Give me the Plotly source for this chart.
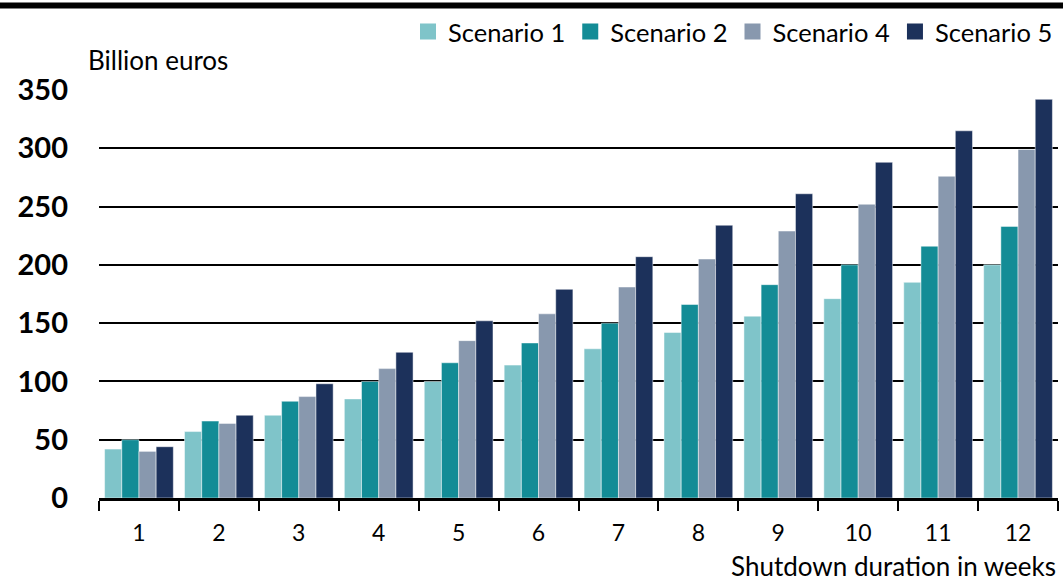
import plotly.graph_objects as go

weeks = ["1", "2", "3", "4", "5", "6", "7", "8", "9", "10", "11", "12"]
scenario_1 = [42, 57, 71, 85, 100, 114, 128, 142, 156, 171, 185, 200]
scenario_2 = [50, 66, 83, 100, 116, 133, 150, 166, 183, 200, 216, 233]
scenario_4 = [40, 64, 87, 111, 135, 158, 181, 205, 229, 252, 276, 299]
scenario_5 = [44, 71, 98, 125, 152, 179, 207, 234, 261, 288, 315, 342]

series = [
    ("Scenario 1", scenario_1, "#7fc4c9"),
    ("Scenario 2", scenario_2, "#138c96"),
    ("Scenario 4", scenario_4, "#8898ae"),
    ("Scenario 5", scenario_5, "#1c315b"),
]

FONT = "Source Sans Pro, Lato, Noto Sans, sans-serif"

fig = go.Figure()
for name, vals, col in series:
    fig.add_trace(go.Bar(
        x=weeks, y=vals, name=name, showlegend=False,
        marker=dict(color=col, line=dict(color="rgba(255,255,255,0.6)", width=0.8)),
    ))
# legend entries with larger square swatches
for name, vals, col in series:
    fig.add_trace(go.Scatter(
        x=[None], y=[None], name=name, mode="markers",
        marker=dict(symbol="square", size=16, color=col),
    ))

W, H = 1063, 582
L, R, T, B = 99, 5, 90, 84
pw = W - L - R
ph = H - T - B

fig.update_layout(
    width=W, height=H,
    margin=dict(l=L, r=R, t=T, b=B),
    barmode="group", bargap=0.14, bargroupgap=0,
    plot_bgcolor="white", paper_bgcolor="white",
    font=dict(family=FONT, color="#000000", size=21),
    showlegend=True,
    legend=dict(orientation="h", x=1.0, xanchor="right", y=(H - B - 32) / ph, yanchor="middle",
                font=dict(size=25.5), traceorder="normal", itemwidth=30,
                bgcolor="rgba(0,0,0,0)"),
    xaxis=dict(
        showgrid=False, showline=True, linecolor="black", linewidth=2.5,
        ticks="outside", tickson="boundaries", ticklen=10, tickwidth=2, tickcolor="black",
        tickfont=dict(size=23), ticklabelstandoff=13, layer="above traces",
    ),
    yaxis=dict(
        range=[0, 350], tickvals=[0, 50, 100, 150, 200, 250, 300, 350],
        showgrid=True, gridcolor="black", gridwidth=2,
        zeroline=False, showline=False, ticks="",
        tickfont=dict(size=29, weight="bold"), ticklabelstandoff=30,
        layer="above traces",
    ),
    annotations=[
        dict(text="Billion euros", xref="paper", yref="paper",
             x=(86 - L) / pw, y=(H - B - 60) / ph, xanchor="left", yanchor="middle",
             showarrow=False, font=dict(size=26)),
        dict(text="Shutdown duration in weeks", xref="paper", yref="paper",
             x=(1058 - L) / pw, y=(H - B - 566) / ph, xanchor="right", yanchor="middle",
             showarrow=False, font=dict(size=26)),
    ],
    shapes=[
        dict(type="line", xref="paper", yref="paper",
             x0=-L / pw, x1=(W - L) / pw, y0=(H - B - 5.5) / ph, y1=(H - B - 5.5) / ph,
             line=dict(color="black", width=6)),
    ],
)

fig.write_html("out.html", post_script="document.body.style.margin='0';",
               config={"displayModeBar": False})
